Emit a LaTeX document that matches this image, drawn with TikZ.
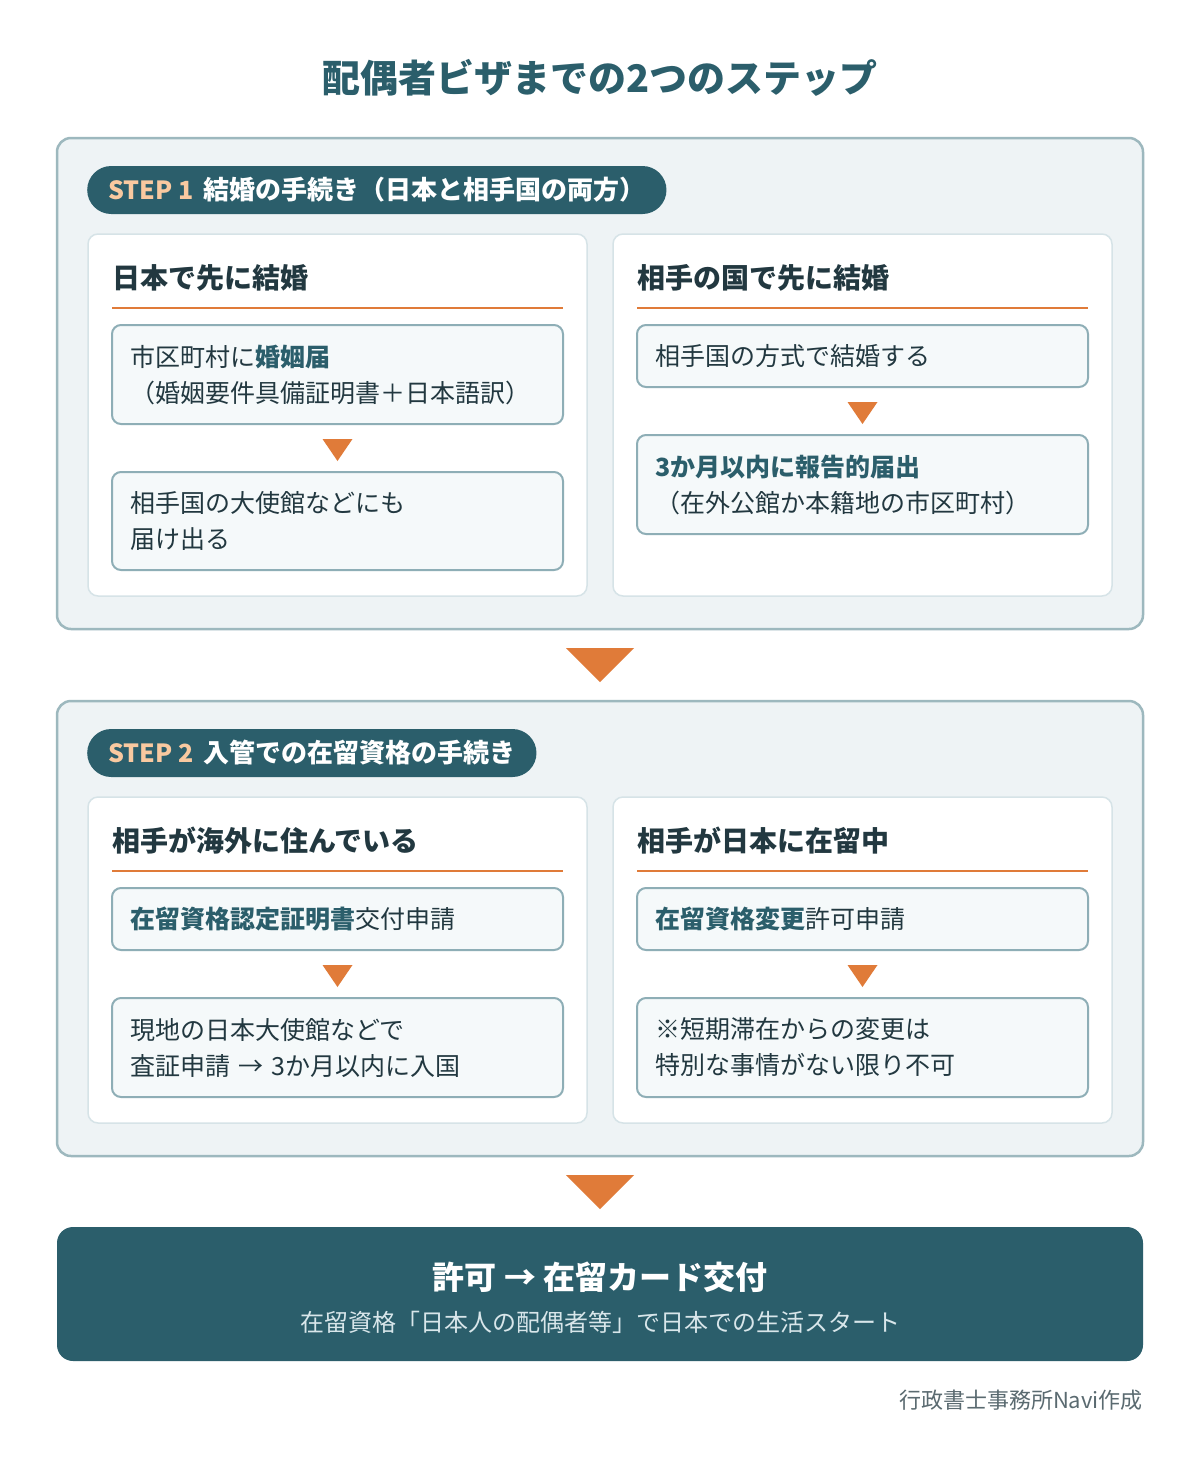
\documentclass[tikz,border=0pt]{standalone}
\usepackage{fontspec}
\setmainfont{Noto Sans CJK JP}
\usetikzlibrary{calc, positioning}

\definecolor{deepteal}{HTML}{2B5E6B}
\definecolor{accent}{HTML}{E07B39}
\definecolor{peach}{HTML}{F9C9A0}
\definecolor{framefill}{HTML}{EEF3F5}
\definecolor{framecol}{HTML}{9DB8BE}
\definecolor{panelcol}{HTML}{D6E3E7}
\definecolor{boxfill}{HTML}{F5F9FA}
\definecolor{boxcol}{HTML}{8EAEB6}
\definecolor{ink}{HTML}{223840}
\definecolor{footgray}{HTML}{5A6A70}
\definecolor{subtext}{HTML}{D8E6EA}

\tikzstyle{frame} = [draw=framecol, line width=2.5pt, fill=framefill, rounded corners=14pt, minimum width=1086pt]
\tikzstyle{panel} = [draw=panelcol, line width=1.5pt, fill=white, rounded corners=10pt, minimum width=499pt]
\tikzstyle{stepbox} = [draw=boxcol, line width=2pt, fill=boxfill, rounded corners=9pt, minimum width=451pt, text width=415pt, align=left, inner xsep=18pt, font=\fontsize{25}{36}\selectfont, text=ink]
\tikzstyle{pill} = [fill=deepteal, rounded corners=24pt, minimum height=48pt, inner xsep=21pt, anchor=west, font=\bfseries\fontsize{26}{30}\selectfont, text=white]
\tikzstyle{head} = [anchor=west, inner sep=0pt, font=\bfseries\fontsize{28}{34}\selectfont, text=ink]
\tikzstyle{rule} = [draw=accent, line width=2.5pt]
\newcommand{\hlt}[1]{\textbf{\color{deepteal}#1}}
\newcommand{\dropmark}[3]{\fill[accent] ($(#1)+(-#2,-#3)$) -- ($(#1)+(#2,-#3)$) -- ($(#1)+(0,#3)$) -- cycle;}

\begin{document}
\begin{tikzpicture}[x=1pt, y=-1pt]
	\useasboundingbox [fill=white] (0,0) rectangle (1200,1462);

	\node [font=\bfseries\fontsize{38}{44}\selectfont, text=deepteal] (title) at (600,78) {配偶者ビザまでの2つのステップ};

	% STEP 1
	\node [frame, minimum height=491pt] (frame1) at (600,383.5) {};
	\node [pill] (pill1) at (87,190) {{\fontsize{25}{30}\selectfont\color{peach}STEP 1}\hspace{10pt}結婚の手続き（日本と相手国の両方）};
	\node [panel, minimum height=362pt] (jpL) at (337.5,415) {};
	\node [panel, minimum height=362pt] (abR) at (862.5,415) {};

	\node [head] (jphead) at (112,278) {日本で先に結婚};
	\path [rule] (112,308) -- (563,308);
	\node [stepbox, minimum height=99pt] (jp1) at (337.5,374.5) {市区町村に\hlt{婚姻届}\\（婚姻要件具備証明書＋日本語訳）};
	\node [stepbox, minimum height=98pt] (jp2) at (337.5,521) {相手国の大使館などにも\\届け出る};

	\node [head] (abhead) at (637,278) {相手の国で先に結婚};
	\path [rule] (637,308) -- (1088,308);
	\node [stepbox, minimum height=62pt] (ab1) at (862.5,356) {相手国の方式で結婚する};
	\node [stepbox, minimum height=99pt] (ab2) at (862.5,484.5) {\hlt{3か月以内に報告的届出}\\（在外公館か本籍地の市区町村）};

	\coordinate (jparr) at ($(jp1.south)!0.5!(jp2.north)+(0,2)$);
	\coordinate (abarr) at ($(ab1.south)!0.5!(ab2.north)+(0,2)$);
	\dropmark{jparr}{15}{11}
	\dropmark{abarr}{15}{11}

	% STEP 2
	\node [frame, minimum height=455pt] (frame2) at (600,928.5) {};
	\node [pill] (pill2) at (87,753) {{\fontsize{25}{30}\selectfont\color{peach}STEP 2}\hspace{10pt}入管での在留資格の手続き};
	\node [panel, minimum height=326pt] (liveL) at (337.5,960) {};
	\node [panel, minimum height=326pt] (stayR) at (862.5,960) {};

	\node [head] (livehead) at (112,841) {相手が海外に住んでいる};
	\path [rule] (112,871) -- (563,871);
	\node [stepbox, minimum height=62pt] (live1) at (337.5,919) {\hlt{在留資格認定証明書}交付申請};
	\node [stepbox, minimum height=99pt] (live2) at (337.5,1047.5) {現地の日本大使館などで\\査証申請 → 3か月以内に入国};

	\node [head] (stayhead) at (637,841) {相手が日本に在留中};
	\path [rule] (637,871) -- (1088,871);
	\node [stepbox, minimum height=62pt] (stay1) at (862.5,919) {\hlt{在留資格変更}許可申請};
	\node [stepbox, minimum height=99pt] (stay2) at (862.5,1047.5) {※短期滞在からの変更は\\特別な事情がない限り不可};

	\coordinate (livearr) at ($(live1.south)!0.5!(live2.north)+(0,2)$);
	\coordinate (stayarr) at ($(stay1.south)!0.5!(stay2.north)+(0,2)$);
	\dropmark{livearr}{15}{11}
	\dropmark{stayarr}{15}{11}

	% result
	\node [fill=deepteal, rounded corners=16pt, minimum width=1086pt, minimum height=134pt] (final) at (600,1294) {};
	\node [font=\bfseries\fontsize{32}{38}\selectfont, text=white] (finaltitle) at (600,1277) {許可 → 在留カード交付};
	\node [font=\fontsize{24}{30}\selectfont, text=subtext] (finalsub) at (600,1322) {在留資格「日本人の配偶者等」で日本での生活スタート};

	\coordinate (gap1) at ($(frame1.south)!0.5!(frame2.north)$);
	\coordinate (gap2) at ($(frame2.south)!0.5!(final.north)$);
	\dropmark{gap1}{34}{17}
	\dropmark{gap2}{34}{17}

	\node [anchor=east, inner sep=0pt, font=\fontsize{22}{26}\selectfont, text=footgray] (credit) at (1143,1400) {行政書士事務所Navi作成};
\end{tikzpicture}
\end{document}
